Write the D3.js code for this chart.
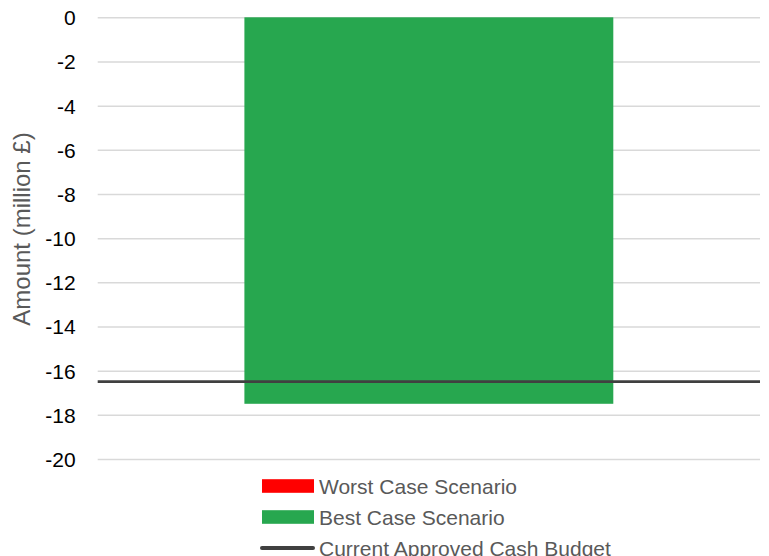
<!DOCTYPE html>
<html>
<head>
<meta charset="utf-8">
<script src="https://cdn.jsdelivr.net/npm/d3@7"></script>
<style>
  html, body { margin: 0; padding: 0; background: #fff; }
  svg { display: block; }
  text { font-family: "Liberation Sans", Arial, sans-serif; }
</style>
</head>
<body>
<script>
// Chart data
const categories = ["Cash Position"];
const worstCase = [0];
const bestCase = [-17.5];
const approvedBudget = -16.5;
const yTicks = [0, -2, -4, -6, -8, -10, -12, -14, -16, -18, -20];
const seriesNames = ["Worst Case Scenario", "Best Case Scenario", "Current Approved Cash Budget"];
const seriesColors = ["#ff0000", "#27a74f", "#404040"];

const width = 769, height = 556;
const plot = { left: 97.7, right: 760, top: 17.3, bottom: 459 };

const svg = d3.select("body").append("svg")
  .attr("width", width).attr("height", height);

const y = d3.scaleLinear().domain([-20, 0]).range([plot.bottom, plot.top]);
const x = d3.scaleBand().domain(categories)
  .range([plot.left, plot.right])
  .paddingInner(0.443).paddingOuter(0.2215);

// horizontal gridlines
const yAxis = d3.axisLeft(y).tickValues(yTicks)
  .tickSize(-(plot.right - plot.left)).tickPadding(22)
  .tickFormat(d => d3.format("d")(d).replace("−", "-"));

const gAxis = svg.append("g")
  .attr("transform", `translate(${plot.left},0)`)
  .call(yAxis);
gAxis.select(".domain").remove();
gAxis.selectAll(".tick line").attr("stroke", "#d9d9d9").attr("stroke-width", 1.5);
gAxis.selectAll(".tick text")
  .attr("fill", "#000").attr("font-size", 21)
  .attr("dy", null).attr("y", 7.5);

// bars: worst case behind, best case in front
const bars = [
  { values: worstCase, color: seriesColors[0] },
  { values: bestCase, color: seriesColors[1] }
];
bars.forEach(s => {
  svg.append("g").selectAll("rect")
    .data(categories.map((c, i) => ({ c, v: s.values[i] })))
    .join("rect")
    .attr("x", d => x(d.c))
    .attr("width", x.bandwidth())
    .attr("y", d => Math.min(y(0), y(d.v)))
    .attr("height", d => Math.abs(y(d.v) - y(0)))
    .attr("fill", s.color);
});

// approved budget reference line
svg.append("line")
  .attr("x1", plot.left).attr("x2", plot.right)
  .attr("y1", y(approvedBudget)).attr("y2", y(approvedBudget))
  .attr("stroke", seriesColors[2]).attr("stroke-width", 2.8);

// y axis title
svg.append("text")
  .attr("transform", `translate(30,229) rotate(-90)`)
  .attr("text-anchor", "middle")
  .attr("fill", "#595959").attr("font-size", 24)
  .text("Amount (million £)");

// legend
const legend = svg.append("g");
const rowY = [486, 517, 548];
seriesNames.forEach((name, i) => {
  const g = legend.append("g").attr("transform", `translate(0,${rowY[i]})`);
  if (i < 2) {
    g.append("rect").attr("x", 262).attr("y", -6.8).attr("width", 52).attr("height", 13.6)
      .attr("fill", seriesColors[i]);
  } else {
    g.append("line").attr("x1", 262).attr("x2", 313).attr("y1", 0).attr("y2", 0)
      .attr("stroke", seriesColors[i]).attr("stroke-width", 4).attr("stroke-linecap", "round");
  }
  g.append("text").attr("x", 319).attr("y", 7.5)
    .attr("fill", "#595959").attr("font-size", 21)
    .text(name);
});
</script>
</body>
</html>
